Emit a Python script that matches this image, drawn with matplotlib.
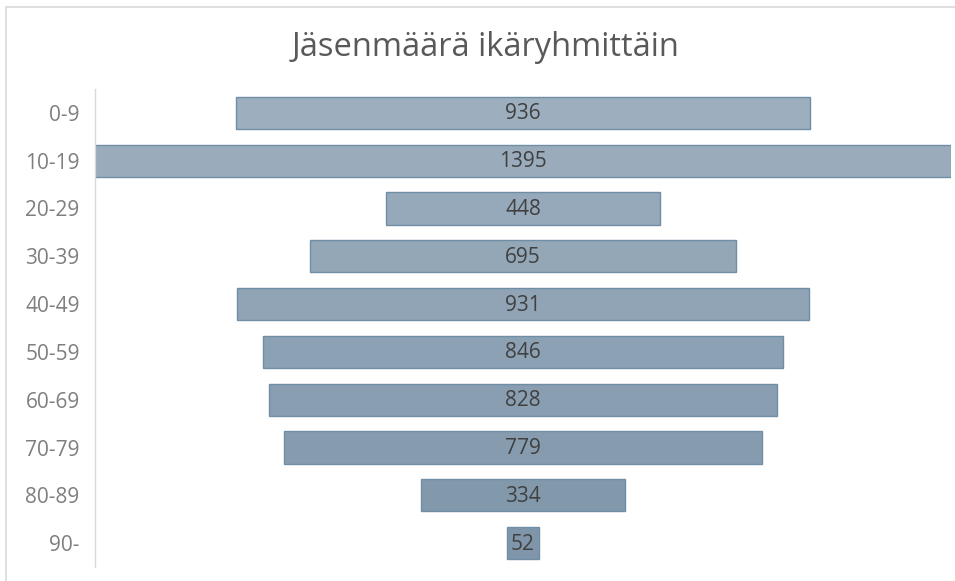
import numpy as np
import matplotlib
matplotlib.use('Agg')
import matplotlib.pyplot as plt
from matplotlib.lines import Line2D

# ── data ──────────────────────────────────────────────────────────────────────

age_groups = ['0-9', '10-19', '20-29', '30-39', '40-49',
              '50-59', '60-69', '70-79', '80-89', '90-']
members    = [936, 1395, 448, 695, 931, 846, 828, 779, 334, 52]
title      = 'Jäsenmäärä ikäryhmittäin'

# ── styling ───────────────────────────────────────────────────────────────────

plt.rcParams['font.family'] = ['Open Sans', 'DejaVu Sans']

W, H = 955, 581
fig = plt.figure(figsize=(W / 100, H / 100), dpi=100)
fig.patch.set_facecolor('white')

# axes placed in pixel terms
x0, x1 = 95, 951
y_top, y_bot = 89, 567
ax = fig.add_axes([x0 / W, 1 - y_bot / H, (x1 - x0) / W, (y_bot - y_top) / H])

n = len(members)
top_c = np.array([157, 175, 190]) / 255
bot_c = np.array([127, 150, 170]) / 255
colors = [tuple(top_c + (bot_c - top_c) * i / (n - 1)) for i in range(n)]

vals = np.array(members, dtype=float)
ypos = np.arange(n)
ax.barh(ypos, vals, left=-vals / 2, height=0.67, color=colors,
        edgecolor='#6f8ea6', linewidth=1.0)

for y, v in zip(ypos, members):
    ax.text(0, y + 0.02, str(v), ha='center', va='center', fontsize=15,
            color='#404040')

half = max(members) / 2
ax.set_xlim(-half, half)
ax.set_ylim(n - 0.5, -0.5)
ax.set_yticks(ypos)
ax.set_yticklabels(age_groups, fontsize=15, color='#7f7f7f')
ax.tick_params(axis='y', length=0, pad=11)
ax.set_xticks([])
for s in ['top', 'right', 'bottom']:
    ax.spines[s].set_visible(False)
ax.spines['left'].set_color('#d9d9d9')
ax.spines['left'].set_linewidth(1.0)

fig.text(486 / W, 1 - 47 / H, title, ha='center', va='center',
         fontsize=23.5, color='#595959')

# outer chart border (top and left only visible)
fig.add_artist(Line2D([7 / W, 1], [1 - 7 / H, 1 - 7 / H], color='#d9d9d9',
                      linewidth=1.2, transform=fig.transFigure))
fig.add_artist(Line2D([6 / W, 6 / W], [0, 1 - 7 / H], color='#d9d9d9',
                      linewidth=1.2, transform=fig.transFigure))

fig.savefig('out.png', dpi=100)
